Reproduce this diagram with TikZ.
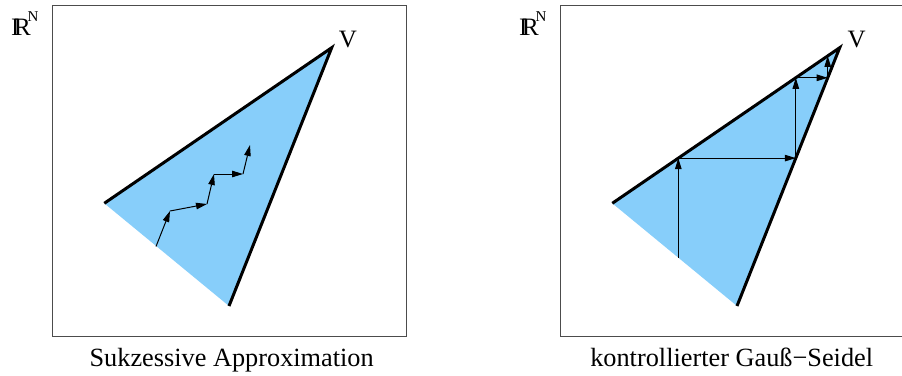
\documentclass[tikz,border=0pt]{standalone}
\usepackage{fontspec}
\setmainfont{Liberation Serif}
\usetikzlibrary{arrows.meta}
\definecolor{skyfill}{RGB}{135,206,250}
\newcommand{\realsN}{I\kern-0.22em R\kern-0.12em\raisebox{0.55em}{\fontsize{15}{16}\selectfont N}}
\begin{document}
\begin{tikzpicture}[x=1pt,y=-1pt,
  frame/.style={draw=black!70, line width=1pt},
  region/.style={fill=skyfill},
  thickedge/.style={line width=3pt},
  arr/.style={line width=1pt, -{Triangle[length=11pt,width=6.5pt]}},
  biglabel/.style={font=\fontsize{26.3}{28}\selectfont, inner sep=0pt},
  vlabel/.style={font=\fontsize{25}{27}\selectfont, inner sep=0pt},
  rlabel/.style={font=\fontsize{25}{27}\selectfont, inner sep=0pt, anchor=base west}
]
\useasboundingbox (0,0) rectangle (902,375);

% ---------- left panel ----------
\draw[frame] (52,5) rectangle (406,336.5);
\coordinate (LA) at (104.3,203.3);
\coordinate (LV) at (331.7,47.7);
\coordinate (LB) at (229,306);
\fill[region] (LA) -- (LV) -- (LB) -- cycle;
\draw[thickedge] (LA) -- (LV) -- (LB);
\node[vlabel] (lvl) at (348,39.5) {V};
\node[rlabel] (lrn) at (11,35) {\realsN};
\node[biglabel, anchor=base] (lcap) at (231.7,366.5) {Sukzessive Approximation};

\coordinate (s0) at (156,246.5);
\coordinate (s1) at (170,211);
\coordinate (s2) at (207,204);
\coordinate (s3) at (214,174);
\coordinate (s4) at (243,174);
\coordinate (s5) at (250,145);
\draw[arr] (s0) -- (s1);
\draw[arr] (s1) -- (s2);
\draw[arr] (s2) -- (s3);
\draw[arr] (s3) -- (s4);
\draw[arr] (s4) -- (s5);

% ---------- right panel ----------
\draw[frame] (560,5) rectangle (904,336.5);
\coordinate (RA) at (612.3,203.3);
\coordinate (RV) at (839.7,47.7);
\coordinate (RB) at (737,306);
\fill[region] (RA) -- (RV) -- (RB) -- cycle;
\draw[thickedge] (RA) -- (RV) -- (RB);
\node[vlabel] (rvl) at (856.7,39.5) {V};
\node[rlabel] (rrn) at (519,35) {\realsN};
\node[biglabel, anchor=base] (rcap) at (731.7,366.5) {kontrollierter Gauß−Seidel};

\coordinate (p0) at (678.3,257.7);
\coordinate (p1) at (678.3,158.1);
\coordinate (p2) at (795.8,158.1);
\coordinate (p3) at (795.8,77.8);
\coordinate (p4) at (827.7,77.8);
\coordinate (p5) at (827.7,55.9);
\draw[arr] (p0) -- (p1);
\draw[arr] (p1) -- (p2);
\draw[arr] (p2) -- (p3);
\draw[arr] (p3) -- (p4);
\draw[arr] (p4) -- (p5);
\end{tikzpicture}
\end{document}
